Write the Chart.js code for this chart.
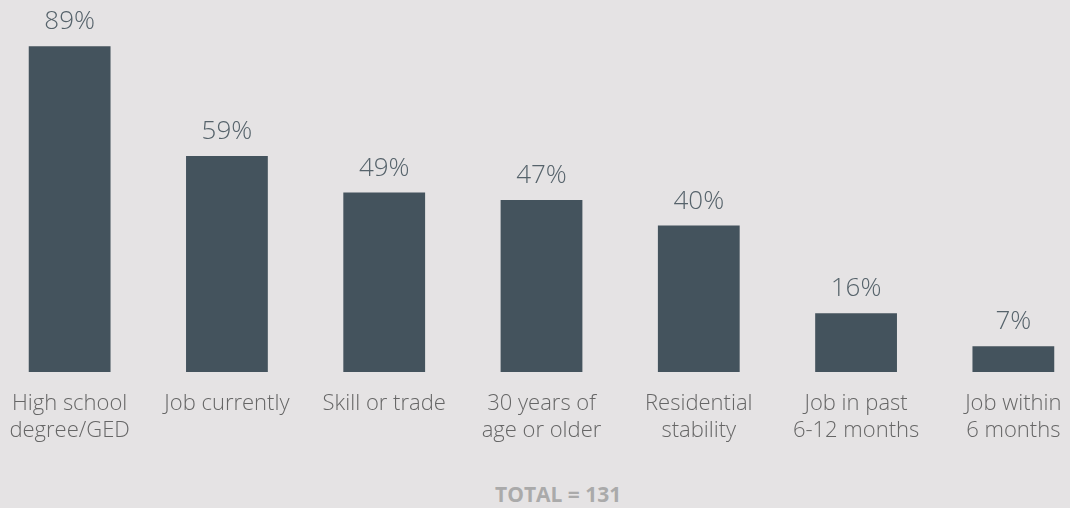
<!DOCTYPE html>
<html>
<head>
<meta charset="utf-8">
<script src="https://cdn.jsdelivr.net/npm/chart.js@4"></script>
<style>
  html, body { margin: 0; padding: 0; background: #e5e3e4; overflow: hidden; }
  body { width: 1070px; height: 508px; position: relative; }
  #wrap { position: absolute; left: -9px; top: 0; width: 1101px; height: 454px; }
  #total {
    position: absolute; left: 495px; top: 480px; line-height: 21px;
    font: bold 21px "Open Sans", sans-serif; color: #aaaaaa;
  }
</style>
</head>
<body>
<div id="wrap"><canvas id="chart"></canvas></div>
<div id="total">TOTAL = 131</div>
<script>
const categories = [
  ["High school", "degree/GED"],
  "Job currently",
  "Skill or trade",
  ["30 years of", "age or older"],
  ["Residential", "stability"],
  ["Job in past", "6-12 months"],
  ["Job within", "6 months"],
];
const percents = [89, 59, 49, 47, 40, 16, 7];

const BAR_COLOR = "#44535d";

// draws "NN%" above every bar
const valueLabels = {
  id: "valueLabels",
  afterDatasetsDraw(chart) {
    const ctx = chart.ctx;
    const meta = chart.getDatasetMeta(0);
    ctx.save();
    ctx.font = '300 26px "Open Sans", sans-serif';
    ctx.fillStyle = "#56636b";
    ctx.textAlign = "center";
    ctx.textBaseline = "alphabetic";
    meta.data.forEach((bar, i) => {
      ctx.fillText(percents[i] + "%", bar.x, bar.y - 17);
    });
    ctx.restore();
  },
};

new Chart(document.getElementById("chart"), {
  type: "bar",
  data: {
    labels: categories,
    datasets: [{
      data: percents,
      backgroundColor: BAR_COLOR,
      barPercentage: 0.52,
      categoryPercentage: 1,
    }],
  },
  options: {
    responsive: true,
    maintainAspectRatio: false,
    animation: false,
    layout: { padding: { top: 6, bottom: 0 } },
    plugins: { legend: { display: false }, tooltip: { enabled: false } },
    scales: {
      x: {
        grid: { display: false },
        border: { display: false },
        ticks: {
          color: "#666666",
          font: { family: "Open Sans", size: 22, weight: 300, lineHeight: 1.23 },
          padding: 10,
          maxRotation: 0,
          autoSkip: false,
        },
      },
      y: {
        display: false,
        min: 0,
        max: 100,
      },
    },
  },
  plugins: [valueLabels],
});
</script>
</body>
</html>
